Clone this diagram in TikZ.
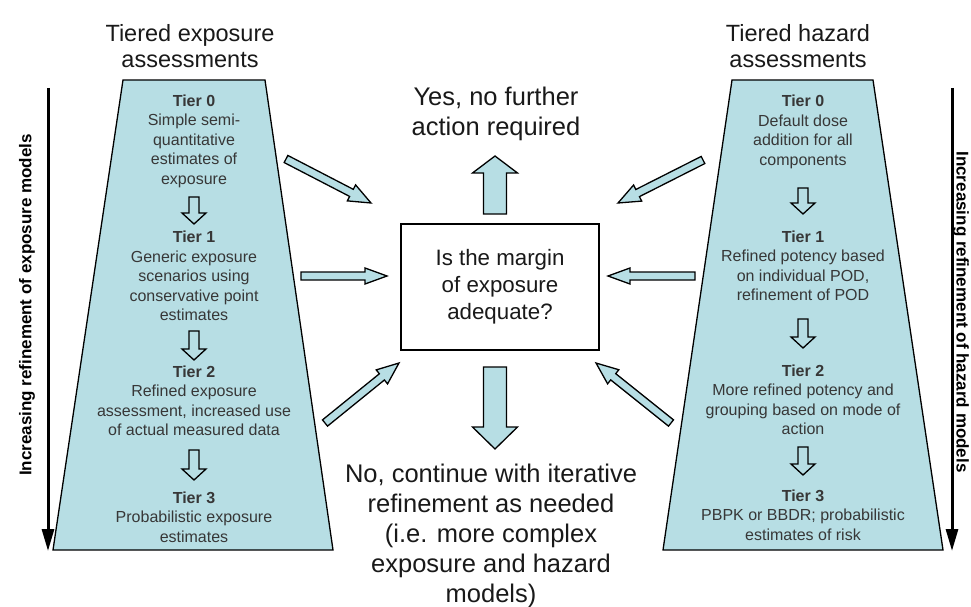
\documentclass[tikz,border=0pt]{standalone}
\usepackage{fontspec}
\setmainfont{Liberation Sans}
\usetikzlibrary{arrows.meta}
\definecolor{tierblue}{RGB}{183,222,228}
\definecolor{tiertxt}{RGB}{55,55,55}
\definecolor{maintxt}{RGB}{25,25,25}
\newcommand\fatarrow[6][]{%
  \pgfpointdiff{\pgfpointanchor{#2}{center}}{\pgfpointanchor{#3}{center}}%
  \pgfgetlastxy{\fatdx}{\fatdy}%
  \pgfmathsetmacro\fatlen{veclen(\fatdx,\fatdy)}%
  \pgfmathsetmacro\fatang{atan2(\fatdy,\fatdx)}%
  \pgfmathsetmacro\fatneck{\fatlen-#6}%
  \draw[blockarr,#1,shift={(#2)},rotate=\fatang]
    (0pt,-#4pt) -- (\fatneck pt,-#4pt) -- (\fatneck pt,-#5pt) -- (\fatlen pt,0pt)
    -- (\fatneck pt,#5pt) -- (\fatneck pt,#4pt) -- (0pt,#4pt) -- cycle;
}
\begin{document}
\begin{tikzpicture}[x=1pt,y=-1pt,
  trap/.style={draw=black, line width=1.3pt, fill=tierblue},
  blockarr/.style={draw=black, line width=1.3pt, fill=tierblue, line join=miter},
  smallarr/.style={fill=none},
  tiertext/.style={align=center, inner sep=0pt, text=tiertxt,
    font=\fontsize{16}{19.5}\selectfont},
  titletext/.style={align=center, inner sep=0pt, text=maintxt,
    font=\fontsize{23.5}{25.5}\selectfont},
  bigtext/.style={align=center, inner sep=0pt, text=maintxt,
    font=\fontsize{25.5}{30}\selectfont},
  qbox/.style={draw=black, line width=1.3pt, fill=white, align=center,
    minimum width=198pt, minimum height=126pt, inner sep=0pt, text=maintxt,
    font=\fontsize{22.3}{27}\selectfont},
  sidelabel/.style={inner sep=0pt, text=black, font=\fontsize{17}{20}\selectfont\bfseries},
  sidearrow/.style={line width=3pt, -{Triangle[length=22pt,width=12pt]}}
]
\useasboundingbox (0,0) rectangle (971,607);

% titles
\node[titletext] (lt) at (190,46) {Tiered exposure\\assessments};
\node[titletext] (rt) at (798,46) {Tiered hazard\\assessments};

% trapezoids
\draw[trap] (123,80) -- (265,80) -- (333,550) -- (53,550) -- cycle;
\draw[trap] (732,80) -- (873,80) -- (943,550) -- (663,550) -- cycle;

% left tiers
\node[tiertext] (L0) at (194,141) {\textbf{Tier 0}\\Simple semi-\\quantitative\\estimates of\\exposure};
\node[tiertext] (L1) at (194,276) {\textbf{Tier 1}\\Generic exposure\\scenarios using\\conservative point\\estimates};
\node[tiertext] (L2) at (194,401) {\textbf{Tier 2}\\Refined exposure\\assessment, increased use\\of actual measured data};
\node[tiertext] (L3) at (194,517) {\textbf{Tier 3}\\Probabilistic exposure\\estimates};

% right tiers
\node[tiertext] (R0) at (803,132) {\textbf{Tier 0}\\Default dose\\addition for all\\components};
\node[tiertext] (R1) at (803,266) {\textbf{Tier 1}\\Refined potency based\\on individual POD,\\refinement of POD};
\node[tiertext] (R2) at (803,400) {\textbf{Tier 2}\\More refined potency and\\grouping based on mode of\\action};
\node[tiertext] (R3) at (803,515) {\textbf{Tier 3}\\PBPK or BBDR; probabilistic\\estimates of risk};

% small tier arrows
\coordinate (la0) at (194,197); \coordinate (la0e) at (194,224);
\coordinate (la1) at (194,331); \coordinate (la1e) at (194,360);
\coordinate (la2) at (194,450); \coordinate (la2e) at (194,480);
\coordinate (ra0) at (803,188); \coordinate (ra0e) at (803,214);
\coordinate (ra1) at (803,319); \coordinate (ra1e) at (803,348);
\coordinate (ra2) at (803,447); \coordinate (ra2e) at (803,475);
\fatarrow[smallarr]{la0}{la0e}{5}{12}{11}
\fatarrow[smallarr]{la1}{la1e}{5}{12}{11}
\fatarrow[smallarr]{la2}{la2e}{5}{12}{11}
\fatarrow[smallarr]{ra0}{ra0e}{5}{12}{11}
\fatarrow[smallarr]{ra1}{ra1e}{5}{12}{11}
\fatarrow[smallarr]{ra2}{ra2e}{5}{12}{11}

% central question
\node[qbox] (q) at (500,287) {Is the margin\\of exposure\\adequate?};
\node[bigtext] (yes) at (496,114) {Yes, no further\\action required};
\node[bigtext] (no) at (491,536) {No, continue with iterative\\refinement as needed\\(i.e. more complex\\exposure and hazard\\models)};

% block arrows
\coordinate (upS) at (495,214); \coordinate (upE) at (495,156);
\coordinate (dnS) at (495,367); \coordinate (dnE) at (495,449);
\fatarrow{upS}{upE}{11.5}{22.5}{17}
\fatarrow{dnS}{dnE}{11.5}{22.5}{22}

\coordinate (hlS) at (301,276); \coordinate (hlE) at (387,276);
\coordinate (hrS) at (695,276); \coordinate (hrE) at (608,276);
\coordinate (ulS) at (286,159); \coordinate (ulE) at (371,203);
\coordinate (urS) at (703,160); \coordinate (urE) at (618,203);
\coordinate (llS) at (325,423); \coordinate (llE) at (399,363);
\coordinate (lrS) at (671,423); \coordinate (lrE) at (596,363);
\fatarrow{hlS}{hlE}{4}{8}{22}
\fatarrow{hrS}{hrE}{4}{8}{22}
\fatarrow{ulS}{ulE}{4}{9}{22}
\fatarrow{urS}{urE}{4}{9}{22}
\fatarrow{llS}{llE}{4}{9}{22}
\fatarrow{lrS}{lrE}{4}{9}{22}

% side arrows and labels
\coordinate (lvS) at (48,88); \coordinate (lvE) at (48,551);
\coordinate (rvS) at (952,88); \coordinate (rvE) at (952,551);
\draw[sidearrow] (lvS) -- (lvE);
\draw[sidearrow] (rvS) -- (rvE);
\node[sidelabel, rotate=90] (ll) at (27,305) {Increasing refinement of exposure models};
\node[sidelabel, rotate=-90] (rl) at (961,312) {Increasing refinement of hazard models};
\end{tikzpicture}
\end{document}
